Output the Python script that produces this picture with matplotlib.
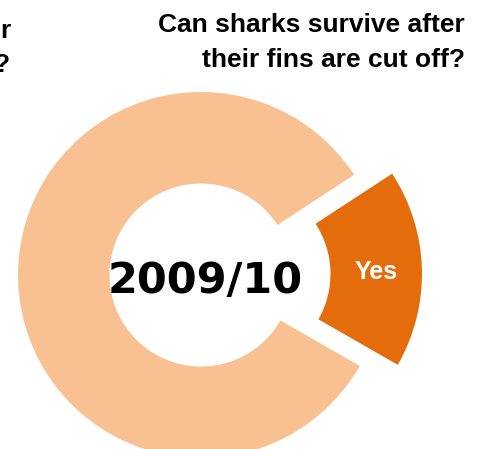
import numpy as np
import matplotlib
matplotlib.use("Agg")
import matplotlib.pyplot as plt

# Survey answers for 2009/10
answers = ["Yes", "No"]
shares = [17.5, 82.5]
colors = ["#E46C0A", "#F9C092"]
year_label = "2009/10"
title_lines = ["Can sharks survive after", "their fins are cut off?"]

H = 449
fig = plt.figure(figsize=(4.8, 4.49), dpi=100)
ax = fig.add_axes([0, 0, 1, 1])

radius = 183
center = (201, H - 275)
wedges, _ = ax.pie(
    shares,
    colors=colors,
    radius=radius,
    center=center,
    startangle=-29.8,
    explode=[38, 0],
    wedgeprops=dict(width=radius * 0.5, linewidth=0),
    frame=True,
)
ax.set_xlim(0, 480)
ax.set_ylim(0, H)
ax.set_aspect("equal")
ax.axis("off")

# label inside the exploded slice
w = wedges[0]
mid = np.deg2rad((w.theta1 + w.theta2) / 2)
r_mid = w.r - w.width / 2
lx = w.center[0] + r_mid * np.cos(mid)
ax.text(lx, H - 279, answers[0], color="white", fontsize=18, fontweight="bold",
        family="Liberation Sans", ha="center", va="baseline")

ax.text(center[0] + 4, H - 293, year_label, fontsize=31, fontweight="bold",
        family="DejaVu Sans", ha="center", va="baseline", color="black")

for line, base in zip(title_lines, [32, 67]):
    ax.text(465, H - base, line, fontsize=19, fontweight="bold",
            family="Liberation Sans", ha="right", va="baseline", color="black")

# trailing characters of the neighbouring panel's heading
for ch, x, base in zip(["r", "?"], [11, 10], [38, 72]):
    ax.text(x, H - base, ch, fontsize=19, fontweight="bold",
            family="Liberation Sans", ha="right", va="baseline", color="black")

fig.savefig("out.png", dpi=100)
